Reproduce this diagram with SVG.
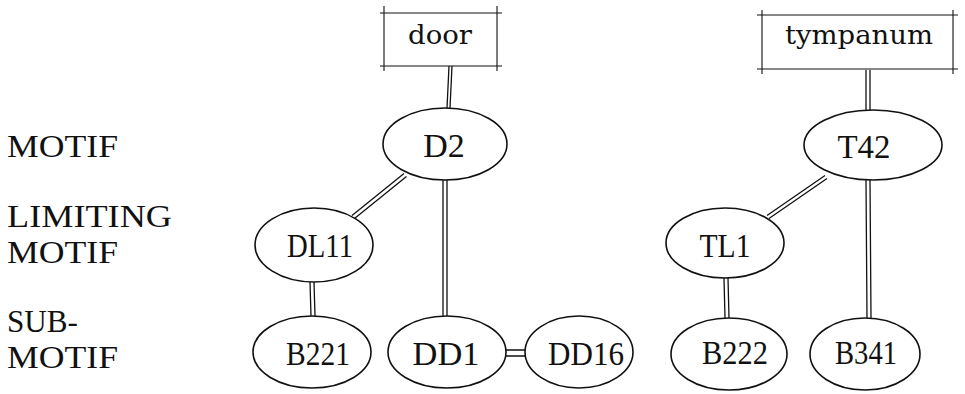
<svg xmlns="http://www.w3.org/2000/svg" width="965" height="394" viewBox="0 0 965 394">
<style>
  .bg { fill: #ffffff; }
  .lbl { font-family: "Liberation Serif", "Times New Roman", serif; font-size: 32px; fill: #111; }
  .nt { font-family: "Liberation Serif", "Times New Roman", serif; font-size: 34px; fill: #111; text-anchor: middle; }
  .bt { font-family: "DejaVu Serif", "Liberation Serif", serif; font-size: 26px; fill: #111; text-anchor: middle; }
  .ell { fill: #ffffff; stroke: #111; stroke-width: 1.6; }
  .box { stroke: #111; stroke-width: 1.1; fill: none; }
  .dbl { stroke: #111; stroke-width: 1.3; fill: none; }
</style>
<rect class="bg" x="0" y="0" width="965" height="394"/>

<g id="levels">
  <text class="lbl" x="7" y="157" textLength="111" lengthAdjust="spacingAndGlyphs">MOTIF</text>
  <text class="lbl" x="7" y="227" textLength="165" lengthAdjust="spacingAndGlyphs">LIMITING</text>
  <text class="lbl" x="7" y="263" textLength="111" lengthAdjust="spacingAndGlyphs">MOTIF</text>
  <text class="lbl" x="7" y="332" textLength="71" lengthAdjust="spacingAndGlyphs">SUB-</text>
  <text class="lbl" x="7" y="368" textLength="111" lengthAdjust="spacingAndGlyphs">MOTIF</text>
</g>

<g id="connectors">
  <path class="dbl" d="M449,66 L447,108 M452,66 L450,108"/>
  <path class="dbl" d="M866,70 L866,111 M870,70 L870,111"/>
  <path class="dbl" d="M404,173.5 L352,215.5 M406.5,176.5 L354.5,218.5"/>
  <path class="dbl" d="M443,180 L443,316 M447,180 L447,316"/>
  <path class="dbl" d="M310,282 L311,316 M314,282 L315,316"/>
  <path class="dbl" d="M505,350 L526,350 M505,356 L526,356"/>
  <path class="dbl" d="M825,175.5 L767,215.5 M827,178.5 L769,218.5"/>
  <path class="dbl" d="M866,180 L867,318 M870,180 L871,318"/>
  <path class="dbl" d="M724,278 L725,318 M728,278 L729,318"/>
</g>

<g id="door">
  <path class="box" d="M380,13 L502,13 M380,66 L502,66 M384,6 L384,71 M497,6 L497,71"/>
  <text class="bt" x="440" y="44" textLength="64" lengthAdjust="spacingAndGlyphs">door</text>
</g>
<g id="tympanum">
  <path class="box" d="M757,15 L958,15 M757,69 L958,69 M762,10 L762,74 M953,10 L953,74"/>
  <text class="bt" x="859" y="44" textLength="148" lengthAdjust="spacingAndGlyphs">tympanum</text>
</g>

<g id="D2">
  <ellipse class="ell" cx="445" cy="144" rx="62" ry="36"/>
  <text class="nt" x="444" y="157">D2</text>
</g>
<g id="T42">
  <ellipse class="ell" cx="873" cy="145" rx="69" ry="35"/>
  <text class="nt" x="864" y="158" textLength="53" lengthAdjust="spacingAndGlyphs">T42</text>
</g>
<g id="DL11">
  <ellipse class="ell" cx="314" cy="245" rx="59" ry="37"/>
  <text class="nt" x="320" y="257" textLength="66" lengthAdjust="spacingAndGlyphs">DL11</text>
</g>
<g id="TL1">
  <ellipse class="ell" cx="725" cy="243" rx="59" ry="35"/>
  <text class="nt" x="725" y="257" textLength="51" lengthAdjust="spacingAndGlyphs">TL1</text>
</g>
<g id="B221">
  <ellipse class="ell" cx="312" cy="352" rx="59" ry="36"/>
  <text class="nt" x="318" y="365" textLength="64" lengthAdjust="spacingAndGlyphs">B221</text>
</g>
<g id="DD1">
  <ellipse class="ell" cx="447" cy="352" rx="59" ry="36"/>
  <text class="nt" x="446" y="365" textLength="67" lengthAdjust="spacingAndGlyphs">DD1</text>
</g>
<g id="DD16">
  <ellipse class="ell" cx="579" cy="352" rx="54" ry="36"/>
  <text class="nt" x="586" y="365" textLength="76" lengthAdjust="spacingAndGlyphs">DD16</text>
</g>
<g id="B222">
  <ellipse class="ell" cx="729" cy="354" rx="58" ry="36"/>
  <text class="nt" x="735" y="364" textLength="66" lengthAdjust="spacingAndGlyphs">B222</text>
</g>
<g id="B341">
  <ellipse class="ell" cx="865" cy="354" rx="55" ry="36"/>
  <text class="nt" x="866" y="364" textLength="62" lengthAdjust="spacingAndGlyphs">B341</text>
</g>
</svg>
